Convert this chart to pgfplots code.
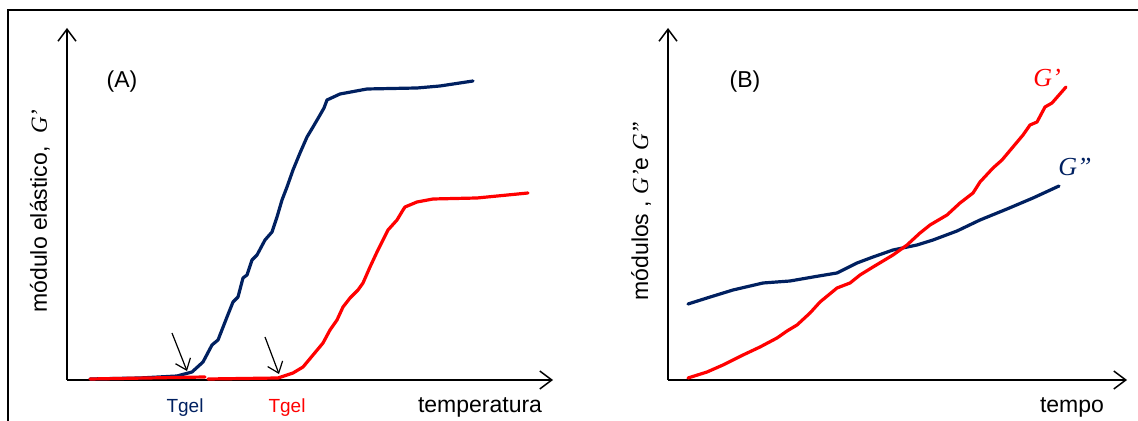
\documentclass[border=0pt]{standalone}
\usepackage{pgfplots}
\pgfplotsset{compat=1.18}
\usepackage{fontspec}
\setmainfont{Liberation Sans}
\newfontfamily\gfont{Liberation Serif}
\usetikzlibrary{arrows.meta}

\definecolor{navy}{RGB}{0,32,96}
\definecolor{gred}{RGB}{255,0,0}

% G' / G'' in italic serif
\newcommand{\Gp}{{\gfont\itshape G’}}
\newcommand{\Gpp}{{\gfont\itshape G”}}

\pgfplotsset{
  sketch/.style={
    scale only axis,
    anchor=south west,
    axis lines=left,
    axis line style={line width=0.75pt,-{Straight Barb[length=6pt,width=9pt]}},
    xmin=0, ymin=0, ymax=352,
    height=176pt,
    ticks=none,
    clip=false,
  },
  curve/.style={line width=1.6pt, line join=round, line cap=round},
}

\begin{document}
\begin{tikzpicture}[x=0.5pt,y=0.5pt]
\useasboundingbox (0,0) rectangle (1138,421);
\draw[line width=1pt] (8,0) -- (8,411) -- (1138,411);

% (A) modulo elastico vs temperatura
\begin{axis}[sketch, at={(67,41)}, xmax=486, width=243pt]
  \addplot[curve, navy] coordinates {
    (23,1) (73,2) (110,4) (125,8) (136,18) (145,35) (151,40) (160,63)
    (166,78) (171,83) (176,102) (180,105) (185,120) (190,125) (198,140)
    (205,148) (210,163) (215,180) (220,193) (226,210) (233,227) (240,243)
    (246,253) (253,265) (257,272) (260,280) (273,286) (300,291) (350,292)
    (373,294) (406,299)
  };
  \addplot[curve, gred] coordinates {(23,1) (80,2) (138,3)};
  \addplot[curve, gred] coordinates {
    (141,1) (211,2) (226,7) (236,13) (246,25) (256,37) (263,50) (270,60)
    (276,73) (283,82) (291,90) (296,97) (303,113) (310,128) (316,140)
    (321,150) (330,160) (336,170) (338,173) (350,178) (366,181) (410,182)
    (461,187)
  };
  \draw[line width=0.6pt,-{Straight Barb[length=5pt,width=8pt]}]
    (axis cs:105,47) -- (axis cs:120,9);
  \draw[line width=0.6pt,-{Straight Barb[length=5pt,width=8pt]}]
    (axis cs:198,43) -- (axis cs:212,6);
  \node[font=\fontsize{11.5}{13}\selectfont] at (axis cs:55,298) {(A)};
  \node[font=\fontsize{11.5}{13}\selectfont] at (axis cs:413,-27) {temperatura};
  \node[font=\fontsize{9.5}{11}\selectfont, text=navy] at (axis cs:118,-28) {Tgel};
  \node[font=\fontsize{9.5}{11}\selectfont, text=gred] at (axis cs:220,-28) {Tgel};
  \node[font=\fontsize{11.5}{13}\selectfont, rotate=90] at (axis cs:-27,169)
    {módulo elástico,\ \ \Gp};
\end{axis}

% (B) modulos G' e G'' vs tempo
\begin{axis}[sketch, at={(668,41)}, xmax=459, width=229.5pt]
  \addplot[curve, navy] coordinates {
    (20,76) (39,82) (65,90) (95,97) (122,99) (145,103) (169,107) (189,117)
    (205,123) (225,130) (249,135) (265,140) (289,149) (312,160) (339,171)
    (365,182) (391,194)
  };
  \addplot[curve, gred] coordinates {
    (20,2) (39,8) (55,15) (75,25) (92,33) (109,42) (119,49) (129,55)
    (142,67) (152,78) (169,92) (182,97) (192,105) (205,113) (225,125)
    (239,135) (252,147) (262,155) (279,165) (292,177) (305,187) (312,198)
    (325,212) (334,220) (355,245) (362,255) (369,258) (377,273) (384,277)
    (398,293)
  };
  \node[font=\fontsize{11.5}{13}\selectfont] at (axis cs:77,298) {(B)};
  \node[font=\fontsize{11.5}{13}\selectfont] at (axis cs:404,-27) {tempo};
  \node[font=\fontsize{13}{15}\selectfont, text=gred] at (axis cs:379,302) {\Gp};
  \node[font=\fontsize{13}{15}\selectfont, text=navy] at (axis cs:407,213) {\Gpp};
  \node[font=\fontsize{11.5}{13}\selectfont, rotate=90] at (axis cs:-27,169)
    {módulos ,\ \Gp e \Gpp};
\end{axis}
\end{tikzpicture}
\end{document}
